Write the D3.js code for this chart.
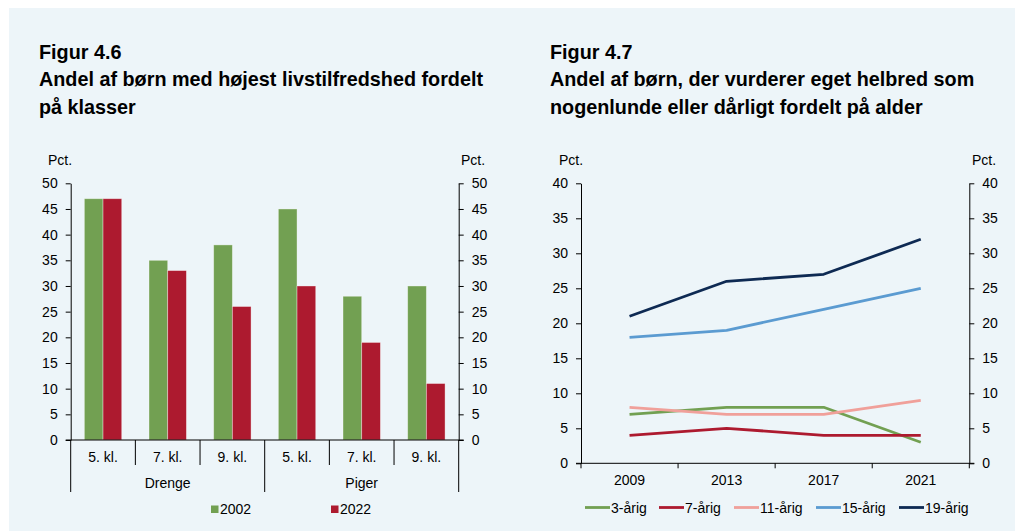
<!DOCTYPE html>
<html>
<head>
<meta charset="utf-8">
<script src="https://cdn.jsdelivr.net/npm/d3@7"></script>
<style>
  body { margin: 0; background: #fff; }
  svg { display: block; font-family: "Liberation Sans", Arial, sans-serif; }
</style>
</head>
<body>
<div id="graphcanvas"></div>
<script>
// Figur 4.6 data
const classes = ['5. kl.', '7. kl.', '9. kl.', '5. kl.', '7. kl.', '9. kl.'];
const genders = ['Drenge', 'Piger'];
const barYears = ['2002', '2022'];
const values2002 = [47, 35, 38, 45, 28, 30];
const values2022 = [47, 33, 26, 30, 19, 11];
const barTicks = [0, 5, 10, 15, 20, 25, 30, 35, 40, 45, 50];

// Figur 4.7 data
const years = ['2009', '2013', '2017', '2021'];
const ages = ['3-årig', '7-årig', '11-årig', '15-årig', '19-årig'];
const age3 = [7, 8, 8, 3];
const age7 = [4, 5, 4, 4];
const age11 = [8, 7, 7, 9];
const age15 = [18, 19, 22, 25];
const age19 = [21, 26, 27, 32];
const lineTicks = [0, 5, 10, 15, 20, 25, 30, 35, 40];

const barColors = ['#72a052', '#ad1a2f'];
const lineColors = ['#72a052', '#ad1a2f', '#f0a09a', '#5b9bd1', '#0e2a53'];

const W = 1015, H = 531;
const svg = d3.select('#graphcanvas').append('svg')
    .attr('width', W).attr('height', H);

svg.append('rect')
    .attr('x', 9).attr('y', 8)
    .attr('width', W - 9).attr('height', H - 8)
    .attr('fill', '#edf5f9');

function title(x, lines) {
    const t = svg.append('text')
        .attr('x', x).attr('y', 59)
        .attr('font-size', '19.8px')
        .attr('font-weight', 'bold')
        .attr('fill', '#000');
    lines.forEach(function(l, i) {
        t.append('tspan').attr('x', x).attr('dy', i ? 27.3 : 0).text(l);
    });
}
title(39, ['Figur 4.6', 'Andel af børn med højest livstilfredshed fordelt', 'på klasser']);
title(550, ['Figur 4.7', 'Andel af børn, der vurderer eget helbred som', 'nogenlunde eller dårligt fordelt på alder']);

function styleAxis(g) {
    g.selectAll('path, line').attr('stroke', '#000');
    g.selectAll('text').attr('font-size', '14px').attr('fill', '#000')
        .attr('font-family', '"Liberation Sans", Arial, sans-serif');
}

// ---------- bar chart ----------
(function() {
    const left = 70.7, right = 458.7, top = 183.3, bottom = 440;
    const idx = d3.range(classes.length);

    const x0 = d3.scaleBand().domain(idx).range([left, right]);
    const x1 = d3.scaleBand().domain(barYears)
        .range([0, x0.bandwidth()]).paddingOuter(0.73).paddingInner(0);
    const y = d3.scaleLinear().domain([0, 50]).range([bottom, top]);

    const g = svg.append('g');

    const rows = idx.map(i => ({ i: i, vals: [values2002[i], values2022[i]] }));
    const slice = g.selectAll('.slice').data(rows).enter().append('g')
        .attr('transform', d => 'translate(' + x0(d.i) + ',0)');
    slice.selectAll('rect')
        .data(d => d.vals.map((v, k) => ({ yr: barYears[k], v: v, k: k })))
        .enter().append('rect')
        .attr('x', d => x1(d.yr))
        .attr('width', x1.bandwidth())
        .attr('y', d => y(d.v))
        .attr('height', d => y(0) - y(d.v))
        .attr('fill', d => barColors[d.k])
        .attr('stroke', 'rgba(255,255,255,0.45)')
        .attr('stroke-width', 0.8);

    const yl = g.append('g').attr('transform', 'translate(' + left + ',0)')
        .call(d3.axisLeft(y).tickValues(barTicks).tickSize(5).tickPadding(8).tickSizeOuter(0));
    styleAxis(yl);
    const yr = g.append('g').attr('transform', 'translate(' + right + ',0)')
        .call(d3.axisRight(y).tickValues(barTicks).tickSize(5).tickPadding(8).tickSizeOuter(0));
    styleAxis(yr);

    // x baseline
    g.append('line').attr('x1', left - 5).attr('x2', right + 5)
        .attr('y1', y(0)).attr('y2', y(0)).attr('stroke', '#000');

    // separators
    d3.range(classes.length + 1).forEach(function(k) {
        const xs = k < classes.length ? x0(k) : right;
        const long = k % 3 === 0;
        g.append('line').attr('x1', xs).attr('x2', xs)
            .attr('y1', y(0)).attr('y2', long ? 492 : 465)
            .attr('stroke', '#000');
    });

    g.selectAll('.cls').data(classes).enter().append('text')
        .attr('x', (d, i) => x0(i) + x0.bandwidth() / 2)
        .attr('y', 461.5)
        .attr('text-anchor', 'middle')
        .attr('font-size', '14px')
        .text(d => d);

    g.selectAll('.grp').data(genders).enter().append('text')
        .attr('x', (d, i) => x0(i * 3) + x0.bandwidth() * 1.5)
        .attr('y', 488)
        .attr('text-anchor', 'middle')
        .attr('font-size', '14px')
        .text(d => d);

    g.append('text').attr('x', 60).attr('y', 165).attr('text-anchor', 'middle')
        .attr('font-size', '14px').text('Pct.');
    g.append('text').attr('x', 473).attr('y', 165).attr('text-anchor', 'middle')
        .attr('font-size', '14px').text('Pct.');

    const legX = [211, 331];
    barYears.forEach(function(yrName, k) {
        g.append('rect').attr('x', legX[k]).attr('y', 505.5)
            .attr('width', 7.5).attr('height', 7.5).attr('fill', barColors[k]);
        g.append('text').attr('x', legX[k] + 9).attr('y', 514)
            .attr('font-size', '14px').text(yrName);
    });
})();

// ---------- line chart ----------
(function() {
    const left = 581, right = 969.3, top = 183.3, bottom = 463.3;
    const series = [age3, age7, age11, age15, age19];

    const x = d3.scaleBand().domain(years).range([left, right]);
    const y = d3.scaleLinear().domain([0, 40]).range([bottom, top]);

    const g = svg.append('g');

    const line = d3.line()
        .x((d, i) => x(years[i]) + x.bandwidth() / 2)
        .y(d => y(d));

    series.forEach(function(s, k) {
        g.append('path').datum(s)
            .attr('d', line)
            .attr('fill', 'none')
            .attr('stroke', lineColors[k])
            .attr('stroke-width', 2.8)
            .attr('stroke-linejoin', 'round');
    });

    const yl = g.append('g').attr('transform', 'translate(' + left + ',0)')
        .call(d3.axisLeft(y).tickValues(lineTicks).tickSize(5).tickPadding(8).tickSizeOuter(0));
    styleAxis(yl);
    const yr = g.append('g').attr('transform', 'translate(' + right + ',0)')
        .call(d3.axisRight(y).tickValues(lineTicks).tickSize(5).tickPadding(8).tickSizeOuter(0));
    styleAxis(yr);

    const xa = g.append('g').attr('transform', 'translate(0,' + bottom + ')')
        .call(d3.axisBottom(x).tickSize(0).tickPadding(12).tickSizeOuter(0));
    styleAxis(xa);
    xa.select('.domain').attr('d', 'M' + (left - 5) + ',0H' + (right + 5));

    // band boundary ticks
    years.concat(['end']).forEach(function(yv) {
        const xs = yv === 'end' ? right : x(yv);
        g.append('line').attr('x1', xs).attr('x2', xs)
            .attr('y1', bottom).attr('y2', bottom + 5).attr('stroke', '#000');
    });

    g.append('text').attr('x', 571).attr('y', 165).attr('text-anchor', 'middle')
        .attr('font-size', '14px').text('Pct.');
    g.append('text').attr('x', 984).attr('y', 165).attr('text-anchor', 'middle')
        .attr('font-size', '14px').text('Pct.');

    const legX = [585, 659, 734, 816, 899];
    ages.forEach(function(a, k) {
        g.append('line').attr('x1', legX[k]).attr('x2', legX[k] + 25)
            .attr('y1', 507.5).attr('y2', 507.5)
            .attr('stroke', lineColors[k]).attr('stroke-width', 2.8);
        g.append('text').attr('x', legX[k] + 26).attr('y', 512.5)
            .attr('font-size', '14px').text(a);
    });
})();
</script>
</body>
</html>
